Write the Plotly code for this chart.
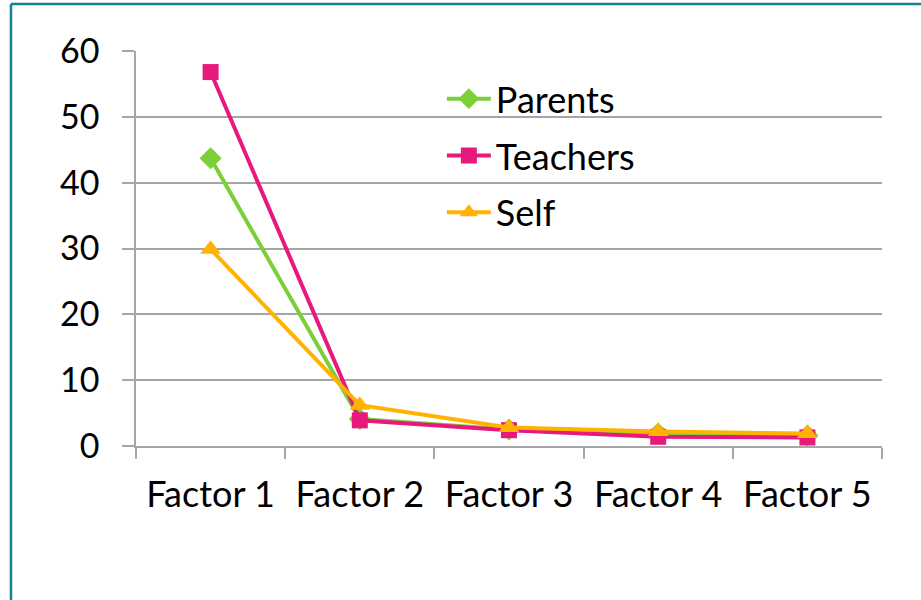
import plotly.graph_objects as go

factors = ["Factor 1", "Factor 2", "Factor 3", "Factor 4", "Factor 5"]
parents = [43.7, 4.1, 2.5, 1.9, 1.6]
teachers = [56.8, 3.9, 2.4, 1.4, 1.3]
self_vals = [29.9, 6.2, 2.8, 2.2, 1.9]
y_ticks = [0, 10, 20, 30, 40, 50, 60]

FONT = "Lato"
GRID = "#a6a6a6"

fig = go.Figure()
series = [
    ("Parents", parents, "#7dcf3a", "diamond", 17),
    ("Teachers", teachers, "#e8197d", "square", 16),
    ("Self", self_vals, "#ffb300", "triangle-up", 18),
]
for name, vals, color, symbol, size in series:
    fig.add_trace(go.Scatter(
        x=factors, y=vals, name=name, mode="lines+markers",
        line=dict(color=color, width=4),
        marker=dict(symbol=symbol, size=size, color=color),
        legendgroup=name,
    ))

# outer frame (top and left edges)
frame = "#17828f"
fig.add_shape(type="line", xref="paper", yref="paper",
              x0=-0.1676, x1=1.2, y0=1.119, y1=1.119,
              line=dict(color=frame, width=2.5))
fig.add_shape(type="line", xref="paper", yref="paper",
              x0=-0.1676, x1=-0.1676, y0=-0.45, y1=1.119,
              line=dict(color=frame, width=2.5))

fig.update_layout(
    width=921, height=600,
    margin=dict(l=136, r=39, t=51, b=154),
    paper_bgcolor="white", plot_bgcolor="white",
    font=dict(family=FONT, size=36, color="black"),
    showlegend=True,
    legend=dict(x=0.41, y=0.955, xanchor="left", yanchor="top",
                font=dict(size=36, family=FONT), tracegroupgap=7,
                bgcolor="rgba(0,0,0,0)", itemwidth=44),
    xaxis=dict(
        type="category", range=[-0.5, 4.5], tickson="boundaries",
        showgrid=False, showline=True, linecolor=GRID, linewidth=1.5,
        ticks="outside", ticklen=11, tickcolor=GRID, tickwidth=1.5,
        tickfont=dict(size=36, family=FONT), ticklabelstandoff=16,
    ),
    yaxis=dict(
        range=[0, 60], tickvals=y_ticks, showgrid=True, gridcolor=GRID,
        gridwidth=1.5, showline=True, linecolor=GRID, linewidth=1.5,
        ticks="outside", ticklen=12, tickcolor=GRID, tickwidth=1.5,
        tickfont=dict(size=34, family=FONT), zeroline=False,
        ticklabelstandoff=16,
    ),
)

fig.write_html("out.html")
